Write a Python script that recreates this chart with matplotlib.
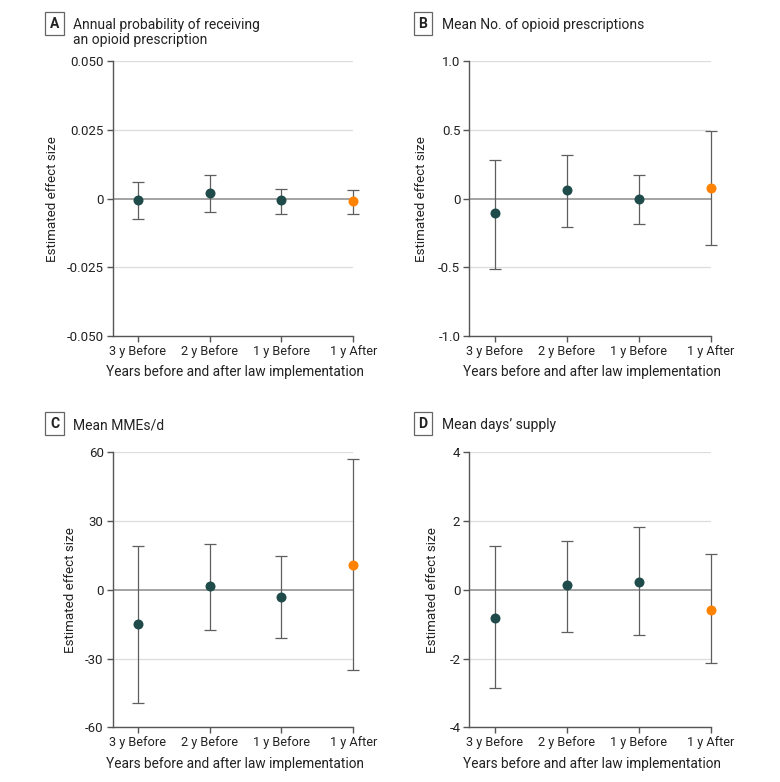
import matplotlib.pyplot as plt

plt.rcParams['font.family'] = ['Roboto', 'DejaVu Sans']

categories = ["3 y Before", "2 y Before", "1 y Before", "1 y After"]

# panel A: annual probability of receiving an opioid prescription
a_est = [-0.0004, 0.0021, -0.0005, -0.0010]
a_low = [-0.0074, -0.0047, -0.0055, -0.0055]
a_high = [0.0059, 0.0086, 0.0036, 0.0030]

# panel B: mean number of opioid prescriptions
b_est = [-0.107, 0.061, 0.0, 0.075]
b_low = [-0.512, -0.206, -0.182, -0.340]
b_high = [0.282, 0.318, 0.172, 0.490]

# panel C: mean MMEs/d
c_est = [-14.8, 1.6, -3.2, 11.0]
c_low = [-49.6, -17.4, -21.1, -35.0]
c_high = [19.0, 19.8, 14.7, 57.0]

# panel D: mean days' supply
d_est = [-0.81, 0.14, 0.24, -0.58]
d_low = [-2.87, -1.22, -1.32, -2.14]
d_high = [1.27, 1.42, 1.82, 1.03]

panels = [
    ("A", "Annual probability of receiving\nan opioid prescription", a_est, a_low, a_high,
     [-0.05, -0.025, 0, 0.025, 0.05], ["-0.050", "-0.025", "0", "0.025", "0.050"]),
    ("B", "Mean No. of opioid prescriptions", b_est, b_low, b_high,
     [-1.0, -0.5, 0, 0.5, 1.0], ["-1.0", "-0.5", "0", "0.5", "1.0"]),
    ("C", "Mean MMEs/d", c_est, c_low, c_high,
     [-60, -30, 0, 30, 60], ["-60", "-30", "0", "30", "60"]),
    ("D", "Mean days\u2019 supply", d_est, d_low, d_high,
     [-4, -2, 0, 2, 4], ["-4", "-2", "0", "2", "4"]),
]

W, H = 780, 782
fig = plt.figure(figsize=(W / 100, H / 100), dpi=100)

# axes boxes in pixels: left, top, right, bottom
boxes = [(112.7, 61.3, 353.3, 336.0), (469.3, 61.3, 710.7, 336.0),
         (112.7, 452.3, 353.3, 727.3), (469.3, 452.3, 710.7, 727.3)]
letter_pos = [(54.5, 23.5), (423.0, 23.5), (54.5, 423.5), (423.0, 423.5)]
ylab_x = [52.0, 421.7, 70.0, 432.7]

dark = "#1f4b4a"
orange = "#ff8200"
bar_col = "#5e5e5e"
spine_col = "#555555"

for i, (letter, title, est, low, high, yt, ytl) in enumerate(panels):
    l, t, r, b = boxes[i]
    ax = fig.add_axes([l / W, 1 - b / H, (r - l) / W, (b - t) / H])
    x = list(range(len(categories)))

    for v in yt:
        if v == 0:
            ax.axhline(0, color="#8a8a8a", lw=1.1, zorder=1)
        else:
            ax.axhline(v, color="#dddddd", lw=0.9, zorder=0)

    for j in x:
        ax.errorbar(j, est[j], yerr=[[est[j] - low[j]], [high[j] - est[j]]],
                    fmt="none", ecolor=bar_col, elinewidth=0.9, capsize=4,
                    capthick=0.9, zorder=2, clip_on=False)
        ax.plot(j, est[j], "o", color=orange if j == 3 else dark,
                ms=7.2, mec="none", zorder=3, clip_on=False)

    ax.set_xlim(-0.35, 3)
    ax.set_ylim(yt[0], yt[-1])
    ax.set_yticks(yt)
    ax.set_yticklabels(ytl)
    ax.set_xticks(x)
    ax.set_xticklabels(categories)
    for s in ["top", "right"]:
        ax.spines[s].set_visible(False)
    for s in ["left", "bottom"]:
        ax.spines[s].set_color(spine_col)
        ax.spines[s].set_linewidth(1.0)
    ax.tick_params(axis="both", colors=spine_col, length=4, width=1.0,
                   labelsize=9.5, labelcolor="#222222", pad=2.5)
    ax.tick_params(axis="x", labelsize=9.2)

    ax.set_ylabel("Estimated effect size", fontsize=9.6, color="#222222", va="center")
    ax.yaxis.set_label_coords((ylab_x[i] - l) / (r - l), 0.5)
    ax.set_xlabel("Years before and after law implementation", fontsize=9.8,
                  color="#222222", va="center")
    ax.xaxis.set_label_coords(0.51, -(36.3 / (b - t)))

    lx, ly = letter_pos[i]
    fig.text(lx / W, 1 - ly / H, letter, fontsize=10, fontweight="bold",
             ha="center", va="center", color="#222222",
             bbox=dict(boxstyle="square,pad=0.35", fc="white", ec="#666666", lw=0.9))
    fig.text((lx + 18.5) / W, 1 - (ly - 5.5) / H, title, fontsize=10,
             ha="left", va="top", color="#222222", linespacing=1.1)

fig.savefig("out.png", dpi=100)
